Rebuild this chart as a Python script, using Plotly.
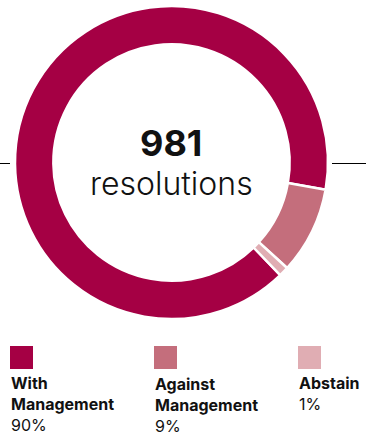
import plotly.graph_objects as go

categories = ["With Management", "Against Management", "Abstain"]
label_lines = [["With", "Management"], ["Against", "Management"], ["Abstain"]]
percent_values = [90, 9, 1]
colors = ["#A50044", "#C46E7C", "#E0ADB3"]
total_resolutions = 981

W, H = 366, 436
FONT = "Inter"

fig = go.Figure()
fig.add_trace(go.Pie(
    labels=categories,
    values=percent_values,
    hole=0.755,
    sort=False,
    direction="clockwise",
    rotation=136,
    marker=dict(colors=colors, line=dict(color="white", width=2.5)),
    textinfo="none",
    hoverinfo="label+percent",
    showlegend=False,
    domain=dict(x=[15 / W, 328 / W], y=[1 - 319 / H, 1 - 6 / H]),
))

def px_x(x):
    return x / W

def px_y(y):
    return 1 - y / H

shapes = []
annotations = []

# horizontal rule segments on either side of the donut
line_y = px_y(163.5)
shapes.append(dict(type="line", xref="paper", yref="paper", x0=0, x1=px_x(10), y0=line_y, y1=line_y,
                   line=dict(color="#000000", width=1)))
shapes.append(dict(type="line", xref="paper", yref="paper", x0=px_x(332), x1=1, y0=line_y, y1=line_y,
                   line=dict(color="#000000", width=1)))

# center text
annotations.append(dict(text=f"<b>{total_resolutions}</b>", x=px_x(171), y=px_y(143), xref="paper", yref="paper",
                        showarrow=False, xanchor="center", yanchor="middle",
                        font=dict(family=FONT, size=36, color="#111111")))
annotations.append(dict(text="resolutions", x=px_x(171), y=px_y(183), xref="paper", yref="paper",
                        showarrow=False, xanchor="center", yanchor="middle",
                        font=dict(family=FONT, size=32, color="#111111", weight=300)))

# custom legend
col_x = [10, 154, 298]
for i, cat in enumerate(categories):
    x0 = col_x[i]
    shapes.append(dict(type="rect", xref="paper", yref="paper",
                       x0=px_x(x0), x1=px_x(x0 + 23), y0=px_y(369), y1=px_y(346),
                       fillcolor=colors[i], line=dict(width=0)))
    txt = "<br>".join(f"<b>{l}</b>" for l in label_lines[i]) + f"<br>{percent_values[i]}%"
    annotations.append(dict(text=txt, x=px_x(x0 - 1), y=px_y(371 + (1 if i == 1 else 0)), xref="paper", yref="paper",
                            showarrow=False, xanchor="left", yanchor="top", align="left",
                            font=dict(family=FONT, size=16, color="#111111")))

fig.update_layout(
    width=W, height=H,
    margin=dict(l=0, r=0, t=0, b=0),
    paper_bgcolor="white",
    plot_bgcolor="white",
    shapes=shapes,
    annotations=annotations,
)

fig.write_html("out.html")
